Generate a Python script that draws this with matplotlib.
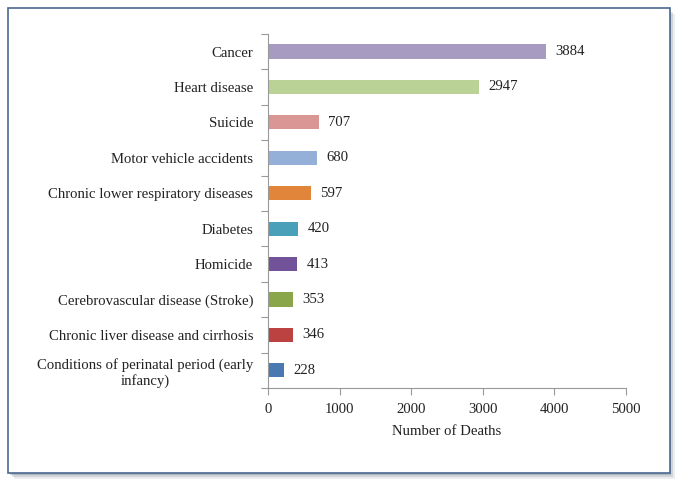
import matplotlib
matplotlib.use("Agg")
import matplotlib.pyplot as plt
from matplotlib.patches import Rectangle
import numpy as np

categories = ["Cancer", "Heart disease", "Suicide", "Motor vehicle accidents",
              "Chronic lower respiratory diseases", "Diabetes", "Homicide",
              "Cerebrovascular disease (Stroke)", "Chronic liver disease and cirrhosis",
              "Conditions of perinatal period (early\ninfancy)"]
deaths = [3884, 2947, 707, 680, 597, 420, 413, 353, 346, 228]
colors = ["#a89bc2", "#bad296", "#d99694", "#95b0d8", "#e0853a",
          "#4aa0b8", "#72539a", "#8aa64a", "#bb4241", "#4a78b0"]
xticks = [0, 1000, 2000, 3000, 4000, 5000]

plt.rcParams['font.family'] = ['Liberation Serif', 'DejaVu Serif']
FS = 10.6

fig = plt.figure(figsize=(6.87, 4.90), dpi=100)

# shadow + frame
for i, a in enumerate([0.15, 0.25, 0.4]):
    off = 0.004 * (3 - i)
    fig.patches.append(Rectangle((0.0116 + off * 0.7, 0.035 - off), 0.963, 0.949,
                                 transform=fig.transFigure, facecolor="#7d8a9a",
                                 edgecolor="none", alpha=a, zorder=0))
frame = Rectangle((0.0116, 0.035), 0.963, 0.949, transform=fig.transFigure,
                  facecolor="white", edgecolor="#4a6890", linewidth=1.2, zorder=1)
fig.patches.append(frame)

ax = fig.add_axes([0.390, 0.208, 0.521, 0.723])
ax.set_zorder(5)
ax.set_facecolor("none")
n = len(categories)
ypos = np.arange(n)[::-1]
ax.barh(ypos, deaths, height=0.4, color=colors)
for y, v in zip(ypos, deaths):
    ax.text(v + 130, y, str(v), va="center", ha="left", fontsize=FS, color="#222222")

ax.set_ylim(-0.5, n - 0.5)
ax.set_xlim(0, 5000)
ax.set_yticks(ypos)
ax.set_yticklabels(categories, fontsize=FS, ha="right", multialignment="center",
                   color="#222222")
ax.set_yticks(np.arange(-0.5, n, 1.0), minor=True)
ax.tick_params(axis="y", which="major", length=0, pad=10.5)
ax.tick_params(axis="y", which="minor", length=5, color="#999999", width=0.8)
ax.set_xticks(xticks)
ax.set_xticklabels([str(t) for t in xticks], fontsize=FS, color="#222222")
ax.tick_params(axis="x", length=5, color="#999999", width=0.8, pad=6)
for s in ["top", "right"]:
    ax.spines[s].set_visible(False)
for s in ["left", "bottom"]:
    ax.spines[s].set_color("#999999")
    ax.spines[s].set_linewidth(0.8)
ax.set_xlabel("Number of Deaths", fontsize=FS, labelpad=6, color="#222222")

fig.savefig("out.png", dpi=100)
